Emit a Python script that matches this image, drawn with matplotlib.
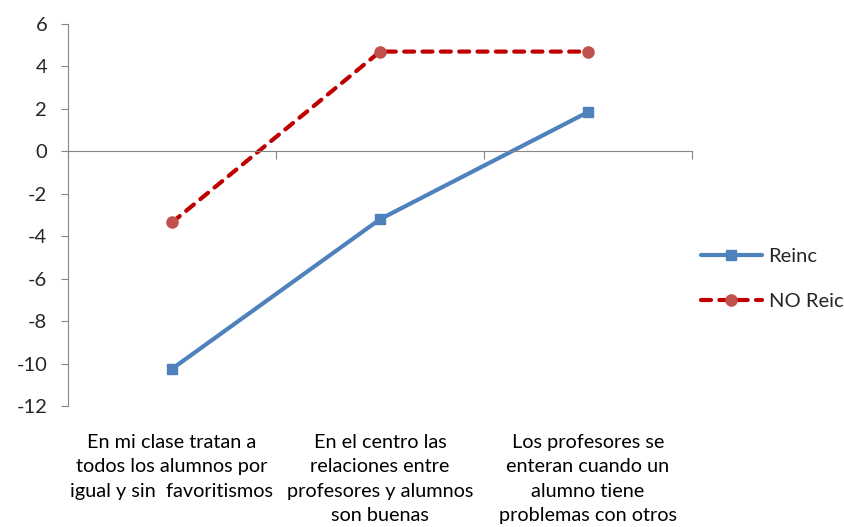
import matplotlib.pyplot as plt
from matplotlib.transforms import blended_transform_factory

# data
categories = [
    "En mi clase tratan a\ntodos los alumnos por\nigual y sin  favoritismos",
    "En el centro las\nrelaciones entre\nprofesores y alumnos\nson buenas",
    "Los profesores se\nenteran cuando un\nalumno tiene\nproblemas con otros",
]
reinc = [-10.25, -3.2, 1.85]
no_reic = [-3.35, 4.7, 4.7]
yticks = list(range(-12, 7, 2))

plt.rcParams['font.family'] = ['Lato', 'DejaVu Sans']
axis_gray = '#868686'
text_col = '#262626'

fig = plt.figure(figsize=(8.45, 5.27), dpi=100)
ax = fig.add_axes([68 / 845, 1 - 406 / 527, (692 - 68) / 845, (406 - 24) / 527])

x = list(range(len(categories)))
ax.plot(x, reinc, color='#4F81BD', lw=3, marker='s', markersize=7.5,
        markerfacecolor='#4F81BD', markeredgecolor='#4F81BD', label='Reinc',
        solid_capstyle='round')
ax.plot(x, no_reic, color='#C00000', lw=3, linestyle=(0, (2.4, 2.0)),
        dash_capstyle='round', marker='o', markersize=8,
        markerfacecolor='#C0504D', markeredgecolor='#C0504D', label='NO Reic')

ax.set_xlim(-0.5, len(categories) - 0.5)
ax.set_ylim(-12, 6)
ax.set_yticks(yticks)
ax.set_yticklabels([str(v) for v in yticks], fontsize=14.5, color=text_col)
ax.tick_params(axis='y', direction='out', length=5, color=axis_gray, pad=10)

# x axis crosses at zero, ticks between categories
for s in ['top', 'right']:
    ax.spines[s].set_visible(False)
ax.spines['left'].set_color(axis_gray)
ax.spines['bottom'].set_position(('data', 0))
ax.spines['bottom'].set_color(axis_gray)
ax.set_xticks([i - 0.5 for i in range(len(categories) + 1)])
ax.set_xticklabels([])
ax.tick_params(axis='x', direction='out', length=6, color=axis_gray)

# category labels below the plot area
trans = blended_transform_factory(ax.transData, fig.transFigure)
for i, lab in enumerate(categories):
    ax.text(i, 1 - 434 / 527, lab, transform=trans, ha='center', va='top',
            fontsize=14.3, color='black', linespacing=1.53)

fig.legend(loc='center left', bbox_to_anchor=(683 / 845, 1 - 279 / 527),
           frameon=False, fontsize=14.5, handlelength=3.0, labelspacing=1.4,
           handletextpad=0.35, labelcolor=text_col)

fig.savefig('out.png', dpi=100)
